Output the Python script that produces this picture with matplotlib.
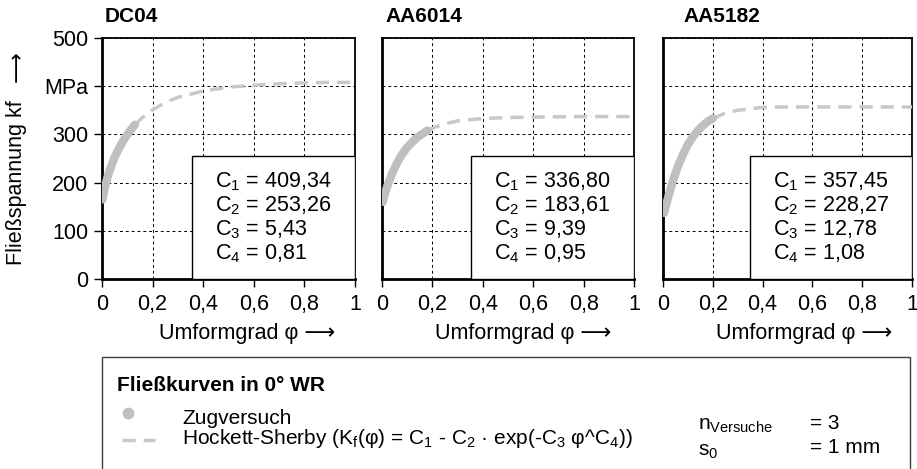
import matplotlib
matplotlib.use("Agg")
import matplotlib.pyplot as plt
from matplotlib.patches import Rectangle
from matplotlib.lines import Line2D

plt.rcParams['font.family'] = ['Liberation Sans', 'DejaVu Sans']
plt.rcParams['mathtext.fontset'] = 'custom'
plt.rcParams['mathtext.rm'] = 'Liberation Sans'
plt.rcParams['mathtext.it'] = 'Liberation Sans:italic'
plt.rcParams['mathtext.bf'] = 'Liberation Sans:bold'

# Werkstoffe
materials = ['DC04', 'AA6014', 'AA5182']

# Hockett-Sherby Parameter (wie im Bild)
c1 = ['409,34', '336,80', '357,45']
c2 = ['253,26', '183,61', '228,27']
c3 = ['5,43', '9,39', '12,78']
c4 = ['0,81', '0,95', '1,08']

# Zugversuch
phi_zug_dc04 = [0.002, 0.01, 0.02, 0.03, 0.05, 0.07, 0.09, 0.11, 0.13]
kf_zug_dc04 = [165, 187, 208, 225, 253, 274, 292, 307, 320]
phi_zug_aa6014 = [0.003, 0.01, 0.02, 0.04, 0.06, 0.08, 0.10, 0.12, 0.14, 0.16, 0.18]
kf_zug_aa6014 = [160, 174, 191, 219, 241, 259, 273, 284, 294, 301, 308]
phi_zug_aa5182 = [0.004, 0.01, 0.02, 0.04, 0.06, 0.08, 0.10, 0.12, 0.14, 0.16, 0.18, 0.20]
kf_zug_aa5182 = [137, 149, 168, 204, 234, 258, 279, 295, 308, 318, 327, 333]

# Hockett-Sherby Extrapolation
phi_hs_dc04 = [0.13, 0.16, 0.2, 0.25, 0.3, 0.4, 0.5, 0.6, 0.7, 0.8, 0.9, 1.0]
kf_hs_dc04 = [320, 335, 351, 366, 377, 390, 398, 402, 405, 407, 408, 408]
phi_hs_aa6014 = [0.18, 0.2, 0.25, 0.3, 0.4, 0.5, 0.6, 0.8, 1.0]
kf_hs_aa6014 = [308, 313, 322, 328, 333, 335, 336, 337, 337]
phi_hs_aa5182 = [0.2, 0.25, 0.3, 0.4, 0.5, 0.6, 0.8, 1.0]
kf_hs_aa5182 = [333, 344, 350, 356, 357, 357, 357, 357]

x_ticks = [0, 0.2, 0.4, 0.6, 0.8, 1.0]
x_ticklabels = ['0', '0,2', '0,4', '0,6', '0,8', '1']
y_ticks = [0, 100, 200, 300, 400, 500]
y_ticklabels = ['0', '100', '200', '300', 'MPa', '500']

zug = [(phi_zug_dc04, kf_zug_dc04), (phi_zug_aa6014, kf_zug_aa6014), (phi_zug_aa5182, kf_zug_aa5182)]
hs = [(phi_hs_dc04, kf_hs_dc04), (phi_hs_aa6014, kf_hs_aa6014), (phi_hs_aa5182, kf_hs_aa5182)]

W, H = 917, 469
grey_zug = '#BFBFBF'
grey_hs = '#C8C8C8'
fs = 15.5      # Achsen / Parameter
fs_leg = 15    # Legende


def fx(px):
    return px / W


def fy(py):
    return 1 - py / H


fig = plt.figure(figsize=(9.17, 4.69), dpi=100)

# Achsenpositionen in Pixel (links, rechts)
ax_px = [(102, 355), (382, 634), (663, 912)]
title_px = [105, 385, 683]
xlabel_px = [247, 523, 804]
box_left = [0.356, 0.353, 0.349]

for i in range(3):
    l, r = ax_px[i]
    ax = fig.add_axes([fx(l), fy(279), fx(r - l), fy(38) - fy(279)])
    ax.set_xlim(0, 1)
    ax.set_ylim(0, 500)
    ax.plot(hs[i][0], hs[i][1], color=grey_hs, lw=2.5, dashes=(3.8, 2.3), zorder=3)
    ax.plot(zug[i][0], zug[i][1], color=grey_zug, lw=6, solid_capstyle='round', zorder=3)

    ax.set_xticks(x_ticks)
    ax.set_xticklabels(x_ticklabels, fontsize=fs)
    ax.set_yticks(y_ticks)
    if i == 0:
        ax.set_yticklabels(y_ticklabels, fontsize=fs)
        ax.tick_params(axis='y', direction='out', length=6, width=1, pad=4)
    else:
        ax.set_yticklabels([])
        ax.tick_params(axis='y', length=0)
    ax.tick_params(axis='x', direction='out', length=6, width=1, pad=5)
    ax.grid(color='black', ls=(0, (3, 3)), lw=0.7)
    ax.set_axisbelow(True)
    for s in ['left', 'bottom']:
        ax.spines[s].set_linewidth(2.0)
    for s in ['top', 'right']:
        ax.spines[s].set_linewidth(1.3)

    # Parameter-Box
    b0 = box_left[i]
    ax.add_patch(Rectangle((b0, 0), 1 - b0, 255 / 500, transform=ax.transAxes,
                           facecolor='white', edgecolor='black', lw=1.0, zorder=4))
    txt = ('C$_\\mathregular{1}$ = ' + c1[i] + '\n' +
           'C$_\\mathregular{2}$ = ' + c2[i] + '\n' +
           'C$_\\mathregular{3}$ = ' + c3[i] + '\n' +
           'C$_\\mathregular{4}$ = ' + c4[i])
    ax.text((b0 + 1) / 2, 255 / 500 / 2, txt, transform=ax.transAxes, ha='center', va='center',
            multialignment='left', fontsize=fs, linespacing=1.08, zorder=5)

    fig.text(fx(title_px[i]), fy(17), materials[i], fontsize=15, fontweight='bold',
             ha='left', va='center')
    fig.text(fx(xlabel_px[i]), fy(333), 'Umformgrad φ ⟶', fontsize=fs, ha='center', va='center')

# y-Beschriftung
fig.text(fx(17), fy(183), 'Fließspannung kf', rotation=90, fontsize=fs, ha='center', va='center')
fig.text(fx(17), fy(67), '⟶', rotation=90, fontsize=fs, ha='center', va='center')

# Legende unten
fig.add_artist(Rectangle((fx(102), -0.05), fx(910 - 102), fy(357) + 0.05, transform=fig.transFigure,
                         facecolor='white', edgecolor='#404040', lw=1.0))
fig.text(fx(117), fy(385), 'Fließkurven in 0° WR', fontsize=fs_leg, fontweight='bold', ha='left', va='center')
fig.add_artist(Line2D([fx(128)], [fy(413)], marker='o', markersize=7.5, color=grey_zug, ls='none',
                      transform=fig.transFigure))
fig.text(fx(182), fy(418), 'Zugversuch', fontsize=fs_leg, ha='left', va='center')
fig.add_artist(Line2D([fx(122), fx(155)], [fy(440), fy(440)], color=grey_hs, lw=2.5, dashes=(3.8, 2.3),
                      transform=fig.transFigure))
fig.text(fx(182), fy(438),
         'Hockett-Sherby (K$_\\mathregular{f}$(φ) = C$_\\mathregular{1}$ - C$_\\mathregular{2}$ · '
         'exp(-C$_\\mathregular{3}$ φ^C$_\\mathregular{4}$))',
         fontsize=fs_leg, ha='left', va='center')
fig.text(fx(698), fy(425), 'n$_\\mathregular{Versuche}$', fontsize=fs_leg, ha='left', va='center')
fig.text(fx(698), fy(451), 's$_\\mathregular{0}$', fontsize=fs_leg, ha='left', va='center')
fig.text(fx(810), fy(423), '= 3', fontsize=fs_leg, ha='left', va='center')
fig.text(fx(810), fy(447), '= 1 mm', fontsize=fs_leg, ha='left', va='center')

fig.savefig('out.png', dpi=100)
